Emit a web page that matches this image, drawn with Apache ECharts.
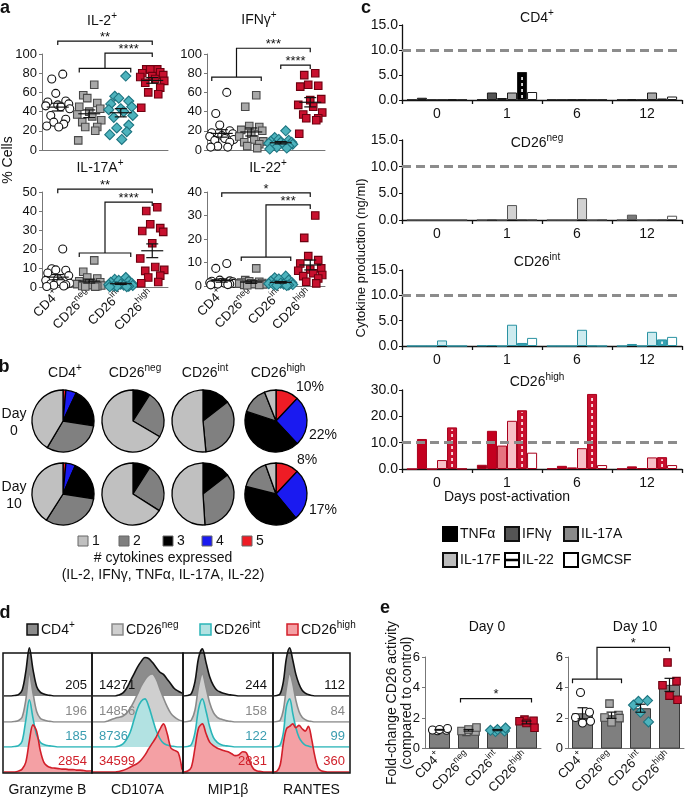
<!DOCTYPE html>
<html><head><meta charset="utf-8"><title>CD26 figure</title>
<script src="https://cdn.jsdelivr.net/npm/echarts@6/dist/echarts.min.js"></script>
<style>html,body{margin:0;padding:0;background:#fff;}#chart{width:685px;height:799px;}</style>
</head><body><div id="chart"></div><script>
const FONT = '"Liberation Sans", Arial, Helvetica, sans-serif';

// ================= DATA =================
const groups = ['CD4+', 'CD26neg', 'CD26int', 'CD26high'];

// a: % cells per donor
const il2CD4   = [79, 74, 59, 51, 50, 48, 47, 46, 45, 43, 36, 32, 29, 27, 25, 24];
const il2Neg   = [68, 57, 54, 49, 45, 43, 40, 37, 35, 31, 29, 24, 24, 20, 10];
const il2Int   = [77, 56, 54, 51, 48, 45, 43, 42, 40, 36, 34, 26, 23, 19, 16, 11];
const il2High  = [84, 84, 84, 81, 80, 78, 77, 76, 74, 72, 70, 65, 60, 58, 44];
const ifngCD4  = [60, 38, 26, 20, 18, 17, 15, 14, 12, 11, 10, 8, 4, 3, 3];
const ifngNeg  = [57, 45, 25, 24, 21, 20, 17, 14, 11, 9, 8, 6, 4, 2];
const ifngInt  = [20, 13, 11, 10, 9, 8, 8, 7, 6, 6, 5, 4, 3, 2, 1];
const ifngHigh = [80, 78, 68, 67, 66, 53, 52, 47, 45, 39, 37, 33, 33, 31, 17];
const il17aCD4  = [20, 9.6, 9, 8.8, 7.4, 6, 4.4, 3.5, 2.6, 2, 1.7, 1.2, 0.9, 0.5, 0.3];
const il17aNeg  = [14, 8, 5, 4.5, 3, 2.5, 2, 1.5, 1, 0.8, 0.5, 0.4, 0.3, 0.2];
const il17aInt  = [5, 4, 3.5, 3, 2.5, 2, 1.5, 1.2, 1, 0.8, 0.5, 0.4, 0.3, 0.2, 0.1];
const il17aHigh = [42, 40, 33, 31, 29.5, 29, 23, 15, 10.5, 9, 8.5, 6, 5, 2.6, 2];
const il22CD4  = [9.6, 7.5, 2.5, 2.2, 2, 1.8, 1.6, 1.4, 1.2, 1.1, 1, 0.9, 0.8, 0.6, 0.5];
const il22Neg  = [7.5, 2.5, 2, 1.8, 1.5, 1.3, 1.2, 1, 0.8, 0.7, 0.5, 0.4, 0.3];
const il22Int  = [4.2, 3.5, 3, 2.5, 2, 1.5, 1.2, 1, 0.8, 0.6, 0.5, 0.4, 0.3, 0.2];
const il22High = [30, 20.5, 12.7, 11, 9.6, 7.5, 7, 6.5, 5.4, 4.7, 4.2, 3.2, 1.8, 1.1];

// b: % of cells expressing 1..5 cytokines
const cytokineCounts = ['1', '2', '3', '4', '5'];
const pieDay0CD4   = [41.5, 31, 20.5, 5.5, 1.5];
const pieDay0Neg   = [66.5, 24.5, 9, 0, 0];
const pieDay0Int   = [51.5, 34, 14.5, 0, 0];
const pieDay0High  = [6, 14, 42, 26, 12];
const pieDay10CD4  = [41, 31.5, 21, 5, 1.5];
const pieDay10Neg  = [66, 25, 9, 0, 0];
const pieDay10Int  = [51, 34.5, 14.5, 0, 0];
const pieDay10High = [5.5, 15.5, 40, 27, 12];
const pieCallouts  = ['10%', '22%', '8%', '17%'];

// c: cytokine production (ng/ml); rows = cytokine, columns = day
const days = ['0', '1', '6', '12'];
const cytokines = ['TNFα', 'IFNγ', 'IL-17A', 'IL-17F', 'IL-22', 'GMCSF'];
const prodCD4 = [
  [0.05, 0.1, 0.05, 0.05],
  [0.45, 1.5, 0.05, 0.15],
  [0.05, 0.4, 0.1, 0.05],
  [0.05, 1.5, 0.1, 1.5],
  [0.15, 5.6, 0.05, 0.3],
  [0.05, 1.6, 0.05, 0.7]
];
const prodNeg = [
  [0, 0, 0, 0],
  [0, 0.1, 0, 1.0],
  [0, 0, 0, 0],
  [0, 2.8, 4.1, 0.05],
  [0, 0.1, 0, 0.1],
  [0, 0.05, 0.05, 0.8]
];
const prodInt = [
  [0, 0.1, 0, 0],
  [0, 0.15, 0, 0.4],
  [0, 0, 0, 0],
  [1.1, 4.2, 3.2, 2.8],
  [0, 0.6, 0.05, 1.3],
  [0, 1.6, 0, 1.8]
];
const prodHigh = [
  [0, 1.6, 0.2, 0.1],
  [11.4, 14.5, 1.2, 1.0],
  [0, 8.9, 0.6, 0.3],
  [3.4, 18.3, 7.9, 4.4],
  [15.8, 22.3, 28.5, 4.5],
  [0.1, 6.2, 1.5, 1.5]
];

// d: histogram heights (relative), 25 bins across each marker box
const markers = ['Granzyme B', 'CD107A', 'MIP1β', 'RANTES'];
const gzbCD4  = [0,0,0,0.01,0.03,0.12,0.5,1.0,0.55,0.2,0.08,0.04,0.02,0.01,0,0,0,0,0,0,0,0,0,0,0];
const gzbNeg  = [0,0,0,0.01,0.03,0.1,0.45,1.0,0.6,0.22,0.08,0.04,0.02,0.01,0,0,0,0,0,0,0,0,0,0,0];
const gzbInt  = [0,0,0,0.01,0.03,0.12,0.55,0.98,0.6,0.25,0.1,0.05,0.03,0.02,0.01,0,0,0,0,0,0,0,0,0,0];
const gzbHigh = [0,0,0,0,0.02,0.06,0.2,0.65,0.98,0.85,0.45,0.2,0.12,0.09,0.08,0.07,0.06,0.06,0.05,0.05,0.04,0.04,0.03,0.02,0.02];
const cd107CD4  = [0,0,0,0,0,0,0,0.02,0.06,0.15,0.3,0.45,0.6,0.72,0.8,0.78,0.7,0.6,0.5,0.45,0.35,0.25,0.15,0.1,0.06];
const cd107Neg  = [0,0,0,0,0.02,0.05,0.08,0.1,0.12,0.18,0.28,0.42,0.58,0.75,0.88,0.97,1.0,0.9,0.7,0.5,0.32,0.18,0.1,0.05,0.02];
const cd107Int  = [0,0,0,0,0,0,0,0.02,0.06,0.15,0.3,0.55,0.8,0.95,1.0,0.85,0.6,0.35,0.18,0.08,0.04,0.02,0.01,0,0];
const cd107High = [0,0,0,0,0,0,0,0.01,0.03,0.06,0.1,0.14,0.18,0.25,0.35,0.48,0.6,0.72,0.88,1.0,0.8,0.5,0.45,0.4,0.05];
const mipCD4  = [0,0.01,0.05,0.3,0.8,0.98,0.7,0.4,0.22,0.12,0.08,0.05,0.03,0.02,0.01,0,0,0,0,0,0,0,0,0,0];
const mipNeg  = [0,0.01,0.04,0.25,0.75,1.0,0.72,0.4,0.2,0.1,0.06,0.04,0.02,0.01,0,0,0,0,0,0,0,0,0,0,0];
const mipInt  = [0,0.01,0.05,0.3,0.8,1.0,0.75,0.42,0.2,0.1,0.05,0.03,0.02,0.01,0,0,0,0,0,0,0,0,0,0,0];
const mipHigh = [0,0.02,0.1,0.5,0.92,1.0,0.8,0.62,0.55,0.5,0.47,0.44,0.42,0.38,0.34,0.36,0.42,0.4,0.2,0.06,0.02,0.01,0,0,0];
const rantesCD4  = [0,0.01,0.05,0.3,0.8,1.0,0.75,0.45,0.25,0.12,0.06,0.03,0.01,0,0,0,0,0,0,0,0,0,0,0,0];
const rantesNeg  = [0,0.01,0.04,0.25,0.72,1.0,0.8,0.45,0.22,0.1,0.05,0.02,0.01,0,0,0,0,0,0,0,0,0,0,0,0];
const rantesInt  = [0,0.01,0.05,0.3,0.85,1.0,0.7,0.4,0.2,0.1,0.04,0.02,0,0,0,0,0,0,0,0,0,0,0,0,0];
const rantesHigh = [0,0.02,0.15,0.6,0.9,0.95,1.0,0.92,0.97,0.9,0.85,0.95,0.7,0.35,0.1,0.03,0.01,0,0,0,0,0,0,0,0];
// MFI values (CD4+, CD26neg, CD26int, CD26high)
const mfiGzb    = [205, 196, 185, 2854];
const mfiCd107  = [14271, 14856, 8736, 34599];
const mfiMip    = [244, 158, 122, 2831];
const mfiRantes = [112, 84, 99, 360];

// e: fold-change CD26 activity
const d0CD4  = [1.17, 1.2, 1.22, 1.25, 1.32];
const d0Neg  = [1.1, 1.12, 1.15, 1.25, 1.38];
const d0Int  = [1.12, 1.15, 1.2, 1.25, 1.35];
const d0High = [1.9, 1.83, 1.79, 1.68, 1.37];
const d10CD4  = [3.68, 2.38, 2.04, 1.68, 1.79];
const d10Neg  = [2.95, 2.2, 2.04, 1.73, 2.0];
const d10Int  = [3.1, 3.15, 2.85, 2.38, 1.75];
const d10High = [5.64, 4.42, 4.15, 3.47, 3.2];

// ================= HELPERS =================
const grids = [], xAxes = [], yAxes = [], series = [], graphics = [];
function addGrid(rect, xa, ya) {
  const i = grids.length;
  grids.push(Object.assign({ containLabel: false }, rect));
  xAxes.push(Object.assign({ gridIndex: i }, xa));
  yAxes.push(Object.assign({ gridIndex: i }, ya));
  return i;
}
const supName = n => n.replace(/^(CD4|CD26)(.+)$/, '$1{s|$2}');
const richA = size => ({ s: { fontSize: Math.round(size * 0.7), fontFamily: FONT, verticalAlign: 'top', lineHeight: Math.round(size * 0.7) + 1, color: '#111' } });
const mean = a => a.reduce((s, v) => s + v, 0) / a.length;
const sem = a => { const m = mean(a); return Math.sqrt(a.reduce((s, v) => s + (v - m) * (v - m), 0) / (a.length - 1)) / Math.sqrt(a.length); };

function T(x, y, text, o = {}) {
  const size = o.size || 13;
  graphics.push({
    type: 'text', x, y, rotation: o.rot || 0, z: 100, silent: true,
    style: {
      text, font: `${o.weight || 'normal'} ${size}px ${FONT}`, fill: o.color || '#111',
      textAlign: o.align || 'center', textVerticalAlign: o.va || 'middle', lineHeight: o.lh || size + 6,
      rich: { s: { font: `${Math.round(size * 0.7)}px ${FONT}`, verticalAlign: 'top', lineHeight: Math.round(size * 0.7) + 1 } }
    }
  });
}
function R(x, y, w, h, fill, stroke, lw) {
  graphics.push({ type: 'rect', z: 90, silent: true, shape: { x, y, width: w, height: h }, style: { fill: fill || 'none', stroke, lineWidth: lw || 1 } });
}
function L(x1, y1, x2, y2, stroke, lw) {
  graphics.push({ type: 'line', z: 95, silent: true, shape: { x1, y1, x2, y2 }, style: { stroke, lineWidth: lw || 1 } });
}

const markerStyles = [
  { symbol: 'circle', size: 8, color: '#ffffff', border: '#111111' },
  { symbol: 'rect', size: 7.5, color: '#a8a8a8', border: '#4a4a4a' },
  { symbol: 'diamond', size: 10, color: '#4db3bd', border: '#1d7480' },
  { symbol: 'rect', size: 7.5, color: '#c8102e', border: '#6d0010' }
];
const jitterA = [5, -6, -2, 8, -10, 11, 0, -12, 3, 12, -7, 8, -4, 6, -11, 1];
const jitterE = [-2, 7, -7, 0, 8];

function scatterSeries(gi, arr, g, jit) {
  const m = markerStyles[g];
  return { type: 'scatter', xAxisIndex: gi, yAxisIndex: gi, silent: true, z: 4, symbol: m.symbol, symbolSize: m.size,
    itemStyle: { color: m.color, borderColor: m.border, borderWidth: 1.1, opacity: 1 },
    data: arr.map((v, i) => ({ value: [g, v], symbolOffset: [jit[i % jit.length], 0] })) };
}
function meanSemSeries(gi, arrs, half, cap) {
  return { type: 'custom', xAxisIndex: gi, yAxisIndex: gi, z: 6, silent: true, clip: false,
    data: arrs.map((a, g) => [g, mean(a), sem(a)]),
    renderItem: (params, api) => {
      const g = api.value(0), m = api.value(1), s = api.value(2);
      const c = api.coord([g, m]), hi = api.coord([g, m + s]), lo = api.coord([g, Math.max(0, m - s)]);
      const st = { stroke: '#111', lineWidth: 1.2 };
      const kids = [
        { type: 'line', shape: { x1: c[0], y1: lo[1], x2: c[0], y2: hi[1] }, style: st },
        { type: 'line', shape: { x1: c[0] - cap, y1: hi[1], x2: c[0] + cap, y2: hi[1] }, style: st },
        { type: 'line', shape: { x1: c[0] - cap, y1: lo[1], x2: c[0] + cap, y2: lo[1] }, style: st }];
      if (half > 0) kids.push({ type: 'line', shape: { x1: c[0] - half, y1: c[1], x2: c[0] + half, y2: c[1] }, style: st });
      return { type: 'group', children: kids };
    } };
}
function bracketSeries(gi, specs, o = {}) {
  return { type: 'custom', xAxisIndex: gi, yAxisIndex: gi, z: 7, silent: true, clip: false, data: [[0, 0]],
    renderItem: (params, api) => {
      const kids = []; const st = { stroke: '#111', lineWidth: 1.2, fill: null };
      const drop = o.drop || 4, ext = o.ext || 10, fs = o.fs || 13;
      const lbl = (x, y, t) => kids.push({ type: 'text', style: { x, y: y - 4, text: t, font: `${fs}px ${FONT}`, fill: '#111', textAlign: 'center', textVerticalAlign: 'middle' } });
      specs.forEach(s => {
        if (s.kind === 'pair') {
          const a = api.coord([s.a, s.y]), b = api.coord([s.b, s.y]);
          const x1 = a[0] - (s.ext || 0), x2 = b[0] + (s.extR || 0);
          kids.push({ type: 'polyline', shape: { points: [[x1, a[1] + drop], [x1, a[1]], [x2, a[1]], [x2, a[1] + drop]] }, style: st });
          lbl((x1 + x2) / 2, a[1], s.label);
        } else {
          const a = api.coord([s.a, s.y1]), b = api.coord([s.b, s.y1]), c = api.coord([s.c, s.y2]);
          const x1 = a[0] - ext, x2 = b[0] + ext, mid = (x1 + x2) / 2;
          kids.push({ type: 'polyline', shape: { points: [[x1, a[1] + drop], [x1, a[1]], [x2, a[1]], [x2, a[1] + drop]] }, style: st });
          kids.push({ type: 'polyline', shape: { points: [[mid, a[1]], [mid, c[1]], [c[0], c[1]], [c[0], c[1] + drop]] }, style: st });
          lbl((mid + c[0]) / 2, c[1], s.label);
        }
      });
      return { type: 'group', children: kids };
    } };
}
const valueAxisA = (max, interval) => ({ type: 'value', min: 0, max, interval,
  axisLine: { show: true, lineStyle: { color: '#777', width: 1 } }, axisTick: { show: true, length: 3, lineStyle: { color: '#777' } },
  splitLine: { show: false }, axisLabel: { fontSize: 13, fontFamily: FONT, color: '#111', margin: 5 } });
const catAxisA = showLabels => ({ type: 'category', data: groups, axisLine: { lineStyle: { color: '#777', width: 1 } }, axisTick: { show: false },
  axisLabel: showLabels ? { show: true, rotate: 45, interval: 0, margin: 6, fontSize: 13, fontFamily: FONT, color: '#111', lineHeight: 19, formatter: supName, rich: richA(13) } : { show: false } });

// ================= PANEL a =================
const aPanels = [
  { title: 'IL-2{s|+}', tx: 102, ty: 21, left: 42, top: 54, width: 126, height: 96, max: 100, interval: 20, data: [il2CD4, il2Neg, il2Int, il2High], labels: false,
    brackets: [{ kind: 'pair', a: 0, b: 3, y: 113.5, label: '**' }, { kind: 'group', a: 1, b: 2, y1: 85, c: 3, y2: 101, label: '****' }] },
  { title: 'IFNγ{s|+}', tx: 259, ty: 20, left: 207, top: 54, width: 118, height: 96, max: 100, interval: 20, data: [ifngCD4, ifngNeg, ifngInt, ifngHigh], labels: false,
    brackets: [{ kind: 'group', a: 0, b: 1, y1: 76, c: 3, y2: 106, label: '***' }, { kind: 'pair', a: 2, b: 3, y: 88.5, label: '****' }] },
  { title: 'IL-17A{s|+}', tx: 100, ty: 168, left: 42, top: 192, width: 126, height: 95, max: 50, interval: 10, data: [il17aCD4, il17aNeg, il17aInt, il17aHigh], labels: true,
    brackets: [{ kind: 'pair', a: 0, b: 3, y: 51.5, label: '**' }, { kind: 'group', a: 1, b: 2, y1: 17.9, c: 3, y2: 44.7, label: '****' }] },
  { title: 'IL-22{s|+}', tx: 268, ty: 168, left: 207, top: 192, width: 118, height: 94, max: 40, interval: 10, data: [il22CD4, il22Neg, il22Int, il22High], labels: true,
    brackets: [{ kind: 'pair', a: 0, b: 3, y: 39.6, label: '*' }, { kind: 'group', a: 1, b: 2, y1: 12.3, c: 3, y2: 34.5, label: '***' }] }
];
aPanels.forEach(p => {
  const gi = addGrid({ left: p.left, top: p.top, width: p.width, height: p.height }, catAxisA(p.labels), valueAxisA(p.max, p.interval));
  p.data.forEach((arr, g) => series.push(scatterSeries(gi, arr, g, jitterA)));
  series.push(meanSemSeries(gi, p.data, 11, 6));
  series.push(bracketSeries(gi, p.brackets));
  T(p.tx, p.ty, p.title, { size: 14 });
});
T(5, 8, 'a', { size: 18, weight: 'bold' });
T(8, 160, '% Cells', { size: 14, rot: Math.PI / 2 });

// ================= PANEL b =================
const pieColors = ['#c0c0c0', '#808080', '#000000', '#1a1af0', '#ee1c25'];
const pieCenters = [63, 133, 203, 276];
const pieRows = [
  { y: 421, sets: [pieDay0CD4, pieDay0Neg, pieDay0Int, pieDay0High] },
  { y: 494, sets: [pieDay10CD4, pieDay10Neg, pieDay10Int, pieDay10High] }
];
pieRows.forEach(row => row.sets.forEach((vals, i) => {
  const data = cytokineCounts.map((n, k) => ({ name: n, value: vals[k], itemStyle: { color: pieColors[k] } }))
    .filter(d => d.value > 0).reverse();
  series.push({ type: 'pie', center: [pieCenters[i], row.y], radius: 31, startAngle: 90, clockwise: true, silent: true,
    label: { show: false }, labelLine: { show: false }, itemStyle: { borderColor: '#000', borderWidth: 1.3 }, data });
}));
T(4, 367, 'b', { size: 18, weight: 'bold' });
groups.forEach((g, i) => T(pieCenters[i] + 2, 373, supName(g), { size: 14 }));
T(14, 423, 'Day\n0', { size: 14, lh: 17 });
T(14, 496, 'Day\n10', { size: 14, lh: 17 });
[[310, 387], [323, 435], [307, 460], [323, 510]].forEach((pt, i) => T(pt[0], pt[1], pieCallouts[i], { size: 14 }));
[78, 119, 163, 202, 242].forEach((x, k) => {
  R(x, 536, 10, 10, pieColors[k], '#666', 1);
  T(x + 14, 541, cytokineCounts[k], { size: 14, align: 'left' });
});
T(163, 558, '# cytokines expressed', { size: 14 });
T(163, 575, '(IL-2, IFNγ, TNFα, IL-17A, IL-22)', { size: 14 });

// ================= PANEL c =================
const cd4Fills  = ['#000000', '#555555', '#8a8a8a', '#a8a8a8', '#000000', '#ffffff'];
const negFills  = ['#444444', '#7a7a7a', '#9a9a9a', '#d2d2d2', '#444444', '#ffffff'];
const intFills  = ['#1c7d8a', '#3097a6', '#5cb8c4', '#cdebef', '#35a2b2', '#ffffff'];
const highFills = ['#9e0018', '#c4001f', '#e67480', '#f7c1c8', '#c8102e', '#ffffff'];
const cGap = 0.14;
const cPanels = [
  { name: 'CD4{s|+}', data: prodCD4, top: 25, height: 75, max: 15, interval: 5, fills: cd4Fills, border: '#1a1a1a', ty: 18 },
  { name: 'CD26{s|neg}', data: prodNeg, top: 140, height: 80, max: 15, interval: 5, fills: negFills, border: '#555555', ty: 143 },
  { name: 'CD26{s|int}', data: prodInt, top: 270, height: 76, max: 15, interval: 5, fills: intFills, border: '#2a92a2', ty: 262 },
  { name: 'CD26{s|high}', data: prodHigh, top: 390, height: 79, max: 30, interval: 10, fills: highFills, border: '#a8001c', ty: 382 }
];
cPanels.forEach(p => {
  const gi = addGrid({ left: 402, top: p.top, width: 280, height: p.height },
    { type: 'category', data: days, axisLine: { lineStyle: { color: '#111', width: 1.3 } }, axisTick: { show: true, length: 4, lineStyle: { color: '#111', width: 1.3 } },
      axisLabel: { fontSize: 14, fontFamily: FONT, color: '#111', margin: 7 } },
    { type: 'value', min: 0, max: p.max, interval: p.interval, axisLine: { show: true, lineStyle: { color: '#111', width: 1.3 } },
      axisTick: { show: true, length: 3, lineStyle: { color: '#111' } }, splitLine: { show: false },
      axisLabel: { fontSize: 14, fontFamily: FONT, color: '#111', margin: 4, formatter: v => v.toFixed(1) } });
  cytokines.forEach((c, k) => {
    const s = { type: 'bar', name: c, xAxisIndex: gi, yAxisIndex: gi, barGap: '0%', barCategoryGap: (cGap * 100) + '%', silent: true, z: 2,
      data: p.data[k], itemStyle: { color: p.fills[k], borderColor: p.border, borderWidth: 1 } };
    if (k === 0) s.markLine = { silent: true, symbol: ['none', 'none'], label: { show: false }, z: 5,
      lineStyle: { color: '#8c8c8c', width: 3, type: [9, 5] }, data: [{ yAxis: 10 }] };
    series.push(s);
  });
  series.push({ type: 'custom', xAxisIndex: gi, yAxisIndex: gi, z: 4, silent: true,
    data: days.map((d, j) => [j, p.data[4][j]]),
    renderItem: (params, api) => {
      const v = api.value(1);
      if (v < 1) return null;
      const c0 = api.coord([api.value(0), 0]), c1 = api.coord([api.value(0), v]);
      const band = api.size([1, 0])[0], groupW = band * (1 - cGap), bw = groupW / 6;
      const x = c0[0] - groupW / 2 + bw * 4.5;
      return { type: 'line', shape: { x1: x, y1: c0[1] - 2, x2: x, y2: c1[1] + 2 }, style: { stroke: '#fff', lineWidth: 1.6, lineDash: [3, 3] } };
    } });
  T(537, p.ty, p.name, { size: 14 });
});
T(366, 8, 'c', { size: 18, weight: 'bold' });
T(361, 258, 'Cytokine production (ng/ml)', { size: 13, rot: Math.PI / 2 });
T(507, 497, 'Days post-activation', { size: 14 });
const legendCStyle = [
  { x: 443, y: 534, fill: '#000000', stroke: '#000' },
  { x: 505, y: 534, fill: '#555555', stroke: '#111' },
  { x: 564, y: 534, fill: '#8a8a8a', stroke: '#111' },
  { x: 443, y: 560, fill: '#bdbdbd', stroke: '#111' },
  { x: 505, y: 560, fill: '#ffffff', stroke: '#000', stripe: true },
  { x: 564, y: 560, fill: '#ffffff', stroke: '#000' }
];
cytokines.forEach((c, k) => {
  const s = legendCStyle[k];
  R(s.x, s.y - 7, 14, 14, s.fill, s.stroke, 2);
  if (s.stripe) L(s.x, s.y, s.x + 14, s.y, '#000', 2.5);
  T(s.x + 17, s.y, c, { size: 14, align: 'left' });
});

// ================= PANEL d =================
const boxEdges = [3, 92, 183, 273, 350];
const rowBase = [696, 722, 747, 772];
const rowH = 50;
const histSets = [
  [gzbCD4, gzbNeg, gzbInt, gzbHigh],
  [cd107CD4, cd107Neg, cd107Int, cd107High],
  [mipCD4, mipNeg, mipInt, mipHigh],
  [rantesCD4, rantesNeg, rantesInt, rantesHigh]
];
const mfiSets = [mfiGzb, mfiCd107, mfiMip, mfiRantes];
const histLine = ['#111111', '#8a8a8a', '#2bb5b8', '#d21f2a'];
const histFill = ['#8c8c8c', '#cfcfcf', '#b2e2e2', '#f4a0a4'];
const mfiColor = ['#111111', '#888888', '#3a9db0', '#d0202a'];
const mfiPos = [{ x: 87, align: 'right' }, { x: 99, align: 'left' }, { x: 267, align: 'right' }, { x: 345, align: 'right' }];
histSets.forEach((set, b) => {
  set.forEach((arr, r) => {
    const gi = addGrid({ left: boxEdges[b] + 1, top: rowBase[r] - rowH, width: boxEdges[b + 1] - boxEdges[b] - 2, height: rowH },
      { type: 'value', min: 0, max: arr.length - 1, show: false },
      { type: 'value', min: 0, max: 1.04, show: false });
    series.push({ type: 'line', xAxisIndex: gi, yAxisIndex: gi, silent: true, z: 2, smooth: 0.35, symbol: 'none',
      lineStyle: { color: histLine[r], width: 1.6 }, areaStyle: { color: histFill[r], opacity: 1 },
      data: arr.map((v, i) => [i, v]) });
    T(mfiPos[b].x, rowBase[r] - 11, String(mfiSets[b][r]), { size: 13, align: mfiPos[b].align, color: mfiColor[r] });
  });
  R(boxEdges[b], 653, boxEdges[b + 1] - boxEdges[b], 120, null, '#111', 1.5);
  T((boxEdges[b] + boxEdges[b + 1]) / 2, 790, markers[b], { size: 14 });
});
T(5, 613, 'd', { size: 18, weight: 'bold' });
const legendDStyle = [{ x: 27, fill: '#8c8c8c', stroke: '#111' }, { x: 112, fill: '#cfcfcf', stroke: '#8a8a8a' }, { x: 200, fill: '#b2e2e2', stroke: '#2bb5b8' }, { x: 287, fill: '#f4a0a4', stroke: '#d21f2a' }];
groups.forEach((g, i) => {
  const s = legendDStyle[i];
  R(s.x, 624, 11, 11, s.fill, s.stroke, 1.5);
  T(s.x + 14, 630, supName(g), { size: 14, align: 'left' });
});

// ================= PANEL e =================
const ePanels = [
  { title: 'Day 0', tx: 487, ty: 627, left: 425, data: [d0CD4, d0Neg, d0Int, d0High],
    brackets: [{ kind: 'pair', a: 1, b: 3, y: 3.28, label: '*', ext: 8, extR: 5 }] },
  { title: 'Day 10', tx: 635, ty: 627, left: 568, data: [d10CD4, d10Neg, d10Int, d10High],
    brackets: [{ kind: 'group', a: 0, b: 1, y1: 4.55, c: 3, y2: 6.63, label: '*' }] }
];
ePanels.forEach(p => {
  const gi = addGrid({ left: p.left, top: 657, width: 116, height: 95 }, catAxisA(true), valueAxisA(6, 2));
  series.push({ type: 'bar', xAxisIndex: gi, yAxisIndex: gi, barWidth: 21, silent: true, z: 2,
    data: p.data.map(mean), itemStyle: { color: '#7f7f7f', borderColor: '#3a3a3a', borderWidth: 1 } });
  p.data.forEach((arr, g) => series.push(scatterSeries(gi, arr, g, jitterE)));
  series.push(meanSemSeries(gi, p.data, 0, 5));
  series.push(bracketSeries(gi, p.brackets, { ext: 10 }));
  T(p.tx, p.ty, p.title, { size: 14 });
});
T(385, 608, 'e', { size: 18, weight: 'bold' });
T(392, 703, 'Fold-change CD26 activity', { size: 14, rot: Math.PI / 2 });
T(407, 703, '(compared to control)', { size: 14, rot: Math.PI / 2 });

// ================= RENDER =================
const chart = echarts.init(document.getElementById('chart'), null, { renderer: 'canvas' });
chart.setOption({
  animation: false,
  backgroundColor: '#ffffff',
  textStyle: { fontFamily: FONT },
  grid: grids, xAxis: xAxes, yAxis: yAxes, series,
  graphic: { elements: graphics }
});
</script></body></html>
